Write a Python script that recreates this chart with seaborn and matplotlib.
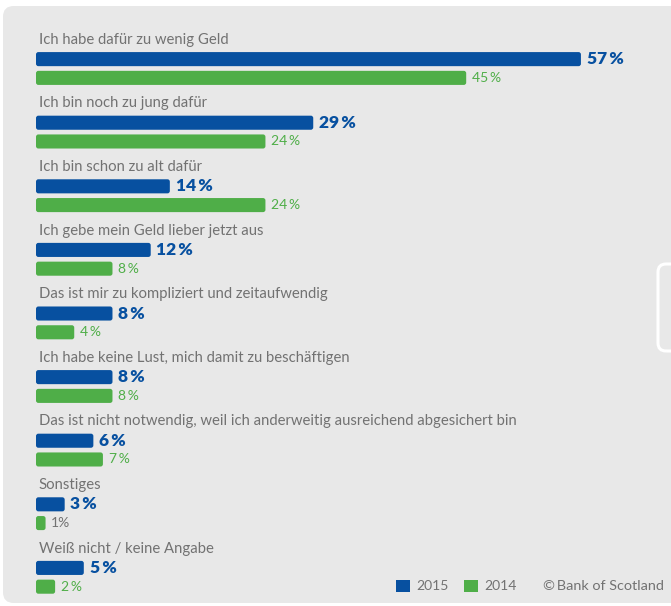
import matplotlib
matplotlib.use("Agg")
import matplotlib.pyplot as plt
from matplotlib.patches import FancyBboxPatch
import pandas as pd
import seaborn as sns

categories = [
    "Ich habe dafür zu wenig Geld",
    "Ich bin noch zu jung dafür",
    "Ich bin schon zu alt dafür",
    "Ich gebe mein Geld lieber jetzt aus",
    "Das ist mir zu kompliziert und zeitaufwendig",
    "Ich habe keine Lust, mich damit zu beschäftigen",
    "Das ist nicht notwendig, weil ich anderweitig ausreichend abgesichert bin",
    "Sonstiges",
    "Weiß nicht / keine Angabe",
]
values_2015 = [57, 29, 14, 12, 8, 8, 6, 3, 5]
values_2014 = [45, 24, 24, 8, 4, 8, 7, 1, 2]
years = ["2015", "2014"]

BLUE = "#0750a0"
GREEN = "#4fae48"
TEXT = "#727272"
PANEL = "#e8e8e8"
FONT = ["Lato", "DejaVu Sans"]

df = pd.DataFrame({
    "Grund": categories * 2,
    "Anteil": values_2015 + values_2014,
    "Jahr": [years[0]] * len(categories) + [years[1]] * len(categories),
})

sns.set_theme(style="white")
plt.rcParams["font.family"] = FONT

W, H = 671, 606
fig = plt.figure(figsize=(W / 100, H / 100), dpi=100, facecolor="white")

# grey rounded panel behind the chart
panel = FancyBboxPatch((3 / W, 3 / H), 700 / W, 597 / H,
                       boxstyle="round,pad=0,rounding_size=0.016",
                       transform=fig.transFigure, facecolor=PANEL,
                       edgecolor="none", mutation_aspect=W / H, zorder=-10)
fig.patches.append(panel)
# small white handle at the right edge
handle = FancyBboxPatch((658 / W, 255 / H), 30 / W, 87 / H,
                        boxstyle="round,pad=0,rounding_size=0.012",
                        transform=fig.transFigure, facecolor="none",
                        edgecolor="white", linewidth=2.2,
                        mutation_aspect=W / H, zorder=-9)
fig.patches.append(handle)

ax = fig.add_axes([0, 0, 1, 1])
ax.set_facecolor("none")

sns.barplot(data=df, y="Grund", x="Anteil", hue="Jahr", hue_order=years,
            order=categories, palette=[BLUE, GREEN], orient="h",
            width=0.59, gap=0.25, linewidth=0, saturation=1, ax=ax)

px_x = 9.56   # pixels per percent
px_y = 63.6   # pixels per category
ax.set_xlim(-36 / px_x, (W - 36) / px_x)
ax.set_ylim((H - 68.5) / px_y, -68.5 / px_y)

# round the bar corners slightly
for p in list(ax.patches):
    x, y = p.get_x(), p.get_y()
    w, h = p.get_width(), p.get_height()
    if w <= 0:
        continue
    fc = p.get_facecolor()
    rr = FancyBboxPatch((x, y), w, h,
                        boxstyle="round,pad=0,rounding_size=0.25",
                        mutation_aspect=px_x / px_y,
                        facecolor=fc, edgecolor="none", zorder=2)
    p.set_visible(False)
    ax.add_patch(rr)

off = 0.59 / 4
for i, (cat, a, b) in enumerate(zip(categories, values_2015, values_2014)):
    ax.text(0.3, i - 0.45, cat, va="center", ha="left", color=TEXT,
            fontsize=10.7, family=FONT)
    ax.text(a + 0.6, i - off, f"{a}\u2009%", va="center", ha="left",
            color=BLUE, fontsize=12.5, fontweight="heavy", family=FONT)
    lab_col = TEXT if b == 1 else GREEN
    lab = f"{b}%" if b == 1 else f"{b}\u2009%"
    ax.text(b + 0.6, i + off, lab, va="center", ha="left",
            color=lab_col, fontsize=10, family=FONT)

handles, labels = ax.get_legend_handles_labels()
leg = ax.legend(handles, labels, loc="center left",
                bbox_to_anchor=(396 / W, (H - 586) / H), ncol=2,
                frameon=False, fontsize=10, handlelength=1.0,
                handleheight=1.0, handletextpad=0.45, columnspacing=1.15,
                borderpad=0, borderaxespad=0)
for t in leg.get_texts():
    t.set_color(TEXT)
    t.set_family(FONT)

ax.text(543 / W, (H - 586) / H, "\u00a9\u2009Bank of Scotland",
        transform=ax.transAxes, va="center", ha="left", color=TEXT,
        fontsize=10.4, family=FONT)

ax.set_xlabel("")
ax.set_ylabel("")
ax.set_xticks([])
ax.set_yticks([])
for s in ax.spines.values():
    s.set_visible(False)

fig.savefig("out.png", dpi=100, facecolor="white")
